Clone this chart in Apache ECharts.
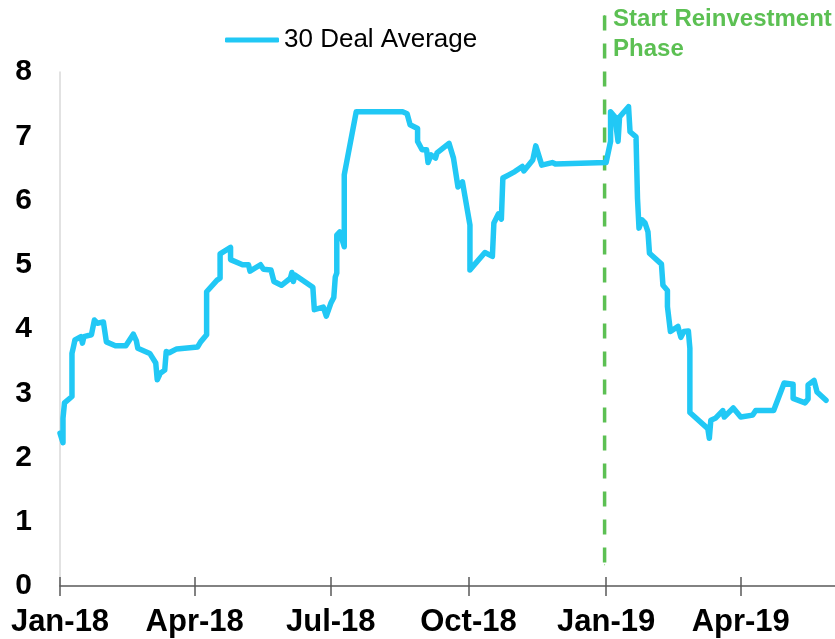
<!DOCTYPE html>
<html>
<head>
<meta charset="utf-8">
<title>30 Deal Average</title>
<script src="https://cdn.jsdelivr.net/npm/echarts@6/dist/echarts.min.js"></script>
<style>
  html, body { margin: 0; padding: 0; background: #fff; }
  #chart { width: 835px; height: 639px; }
</style>
</head>
<body>
<div id="chart"></div>
<script>
// observation dates and 30 deal average values
const dates = [
  '2018-01-01','2018-01-03','2018-01-03','2018-01-04','2018-01-09','2018-01-09','2018-01-10','2018-01-11','2018-01-15','2018-01-16',
  '2018-01-17','2018-01-22','2018-01-24','2018-01-26','2018-01-30','2018-02-01','2018-02-07','2018-02-14','2018-02-19','2018-02-21',
  '2018-02-22','2018-03-02','2018-03-06','2018-03-07','2018-03-09','2018-03-12','2018-03-13','2018-03-15','2018-03-20','2018-04-03',
  '2018-04-05','2018-04-09','2018-04-09','2018-04-16','2018-04-18','2018-04-18','2018-04-25','2018-04-25','2018-05-03','2018-05-07',
  '2018-05-08','2018-05-15','2018-05-17','2018-05-22','2018-05-24','2018-05-29','2018-06-04','2018-06-05','2018-06-06','2018-06-07',
  '2018-06-19','2018-06-20','2018-06-26','2018-06-28','2018-07-01','2018-07-03','2018-07-04','2018-07-05','2018-07-05','2018-07-07',
  '2018-07-10','2018-07-10','2018-07-18','2018-08-18','2018-08-21','2018-08-22','2018-08-23','2018-08-28','2018-08-28','2018-08-31',
  '2018-09-03','2018-09-04','2018-09-06','2018-09-09','2018-09-10','2018-09-18','2018-09-21','2018-09-24','2018-09-27','2018-10-02',
  '2018-10-02','2018-10-12','2018-10-17','2018-10-18','2018-10-21','2018-10-23','2018-10-24','2018-10-28','2018-11-01','2018-11-06',
  '2018-11-07','2018-11-13','2018-11-15','2018-11-19','2018-11-26','2018-11-28','2019-01-01','2019-01-02','2019-01-04','2019-01-04',
  '2019-01-07','2019-01-08','2019-01-09','2019-01-10','2019-01-16','2019-01-17','2019-01-21','2019-01-22','2019-01-23','2019-01-25',
  '2019-01-27','2019-01-29','2019-01-30','2019-02-07','2019-02-08','2019-02-11','2019-02-11','2019-02-13','2019-02-18','2019-02-20',
  '2019-02-22','2019-02-25','2019-02-26','2019-02-26','2019-03-10','2019-03-11','2019-03-12','2019-03-15','2019-03-20','2019-03-21',
  '2019-03-27','2019-04-01','2019-04-09','2019-04-11','2019-04-23','2019-04-30','2019-05-06','2019-05-06','2019-05-14','2019-05-16',
  '2019-05-16','2019-05-20','2019-05-22','2019-05-28'
];
const dealAverage = [
  2.38,2.23,2.61,2.85,2.95,3.62,3.72,3.83,3.88,3.78,
  3.88,3.91,4.14,4.09,4.11,3.80,3.74,3.74,3.92,3.82,
  3.70,3.62,3.47,3.21,3.31,3.36,3.65,3.63,3.69,3.72,
  3.80,3.91,4.58,4.76,4.79,5.17,5.27,5.08,5.00,5.00,
  4.90,5.00,4.93,4.92,4.74,4.68,4.79,4.88,4.74,4.84,
  4.65,4.30,4.34,4.20,4.40,4.49,4.81,4.87,5.46,5.51,
  5.28,6.40,7.38,7.38,7.35,7.38,7.18,7.12,6.92,6.79,
  6.79,6.59,6.71,6.66,6.74,6.89,6.66,6.21,6.29,5.62,
  4.92,5.19,5.13,5.65,5.79,5.71,6.35,6.40,6.45,6.53,
  6.46,6.63,6.85,6.55,6.59,6.57,6.59,6.59,6.92,7.38,
  7.30,7.10,6.92,7.30,7.46,7.07,6.99,6.03,5.57,5.70,
  5.65,5.51,5.18,5.01,4.68,4.60,4.35,3.96,4.04,3.87,
  3.96,3.97,3.70,2.70,2.45,2.30,2.58,2.61,2.73,2.63,
  2.77,2.63,2.66,2.73,2.73,3.16,3.14,2.92,2.85,2.91,
  3.13,3.20,3.02,2.89
];

// x axis ticks
const tickDates = ['2018-01-01', '2018-04-01', '2018-07-01', '2018-10-01', '2019-01-01', '2019-04-01'];
const tickLabels = ['Jan-18', 'Apr-18', 'Jul-18', 'Oct-18', 'Jan-19', 'Apr-19'];
const axisStart = '2018-01-01';
const axisEnd = '2019-06-03';

// reinvestment marker
const reinvestDate = '2018-12-31';
const reinvestSpan = [8.88, 0.33];
const reinvestText = 'Start Reinvestment\nPhase';

const FONT = 'Arial, "Liberation Sans", Helvetica, sans-serif';
const LINE_COLOR = '#21C8F5';
const GREEN = '#5CC053';

const toTime = s => {
    const p = s.split('-');
    return new Date(+p[0], p[1] - 1, +p[2]).getTime();
};
const tickTimes = tickDates.map(toTime);
const labelFor = v => {
    let best = 0;
    tickTimes.forEach((t, i) => { if (Math.abs(t - v) < Math.abs(tickTimes[best] - v)) best = i; });
    return tickLabels[best];
};

const chart = echarts.init(document.getElementById('chart'), null, { renderer: 'canvas' });

const xBase = {
    type: 'value',
    min: toTime(axisStart),
    max: toTime(axisEnd),
    splitLine: { show: false },
    position: 'bottom'
};

chart.setOption({
    animation: false,
    textStyle: { fontFamily: FONT },
    grid: { left: 60, right: 0, top: 72, bottom: 53, containLabel: false },
    legend: {
        data: ['30 Deal Average'],
        left: 220,
        top: 22,
        icon: 'roundRect',
        itemWidth: 54,
        itemHeight: 5,
        itemGap: 5,
        textStyle: { fontSize: 26, color: '#000', fontFamily: FONT }
    },
    xAxis: [
        Object.assign({}, xBase, {
            axisLine: { show: true, lineStyle: { color: '#595959', width: 1.5 } },
            axisTick: { show: true, length: 10, customValues: tickTimes, lineStyle: { color: '#595959', width: 1.5 } },
            axisLabel: {
                customValues: tickTimes,
                formatter: v => labelFor(v),
                fontSize: 31,
                fontWeight: 'bold',
                color: '#000',
                margin: 21,
                fontFamily: FONT
            }
        }),
        // second axis only to draw the upper half of the crossing ticks
        Object.assign({}, xBase, {
            axisLine: { show: false },
            axisTick: { show: true, inside: true, length: 9, customValues: tickTimes, lineStyle: { color: '#595959', width: 1.5 } },
            axisLabel: { show: false }
        })
    ],
    yAxis: {
        type: 'value',
        min: 0,
        max: 8,
        interval: 1,
        axisLine: { show: true, lineStyle: { color: '#D9D9D9', width: 1.5 } },
        axisTick: { show: false },
        splitLine: { show: false },
        axisLabel: { fontSize: 30, fontWeight: 'bold', color: '#000', margin: 28, fontFamily: FONT }
    },
    series: [
        {
            name: '30 Deal Average',
            type: 'line',
            xAxisIndex: 0,
            data: dates.map((d, i) => [toTime(d), dealAverage[i]]),
            showSymbol: false,
            color: LINE_COLOR,
            lineStyle: { color: LINE_COLOR, width: 5.5, cap: 'round', join: 'round' },
            z: 3
        },
        {
            name: 'Reinvestment',
            type: 'line',
            xAxisIndex: 0,
            clip: false,
            data: reinvestSpan.map(v => [toTime(reinvestDate), v]),
            symbol: 'circle',
            symbolSize: 1,
            itemStyle: { color: GREEN },
            lineStyle: { color: GREEN, width: 3.5, type: [15, 13] },
            label: {
                show: true,
                position: 'right',
                distance: 8,
                offset: [0, 19],
                formatter: p => (p.dataIndex === 0 ? reinvestText : ''),
                color: GREEN,
                fontSize: 24,
                fontWeight: 'bold',
                lineHeight: 30,
                align: 'left',
                fontFamily: FONT
            },
            z: 2
        }
    ]
});
</script>
</body>
</html>
